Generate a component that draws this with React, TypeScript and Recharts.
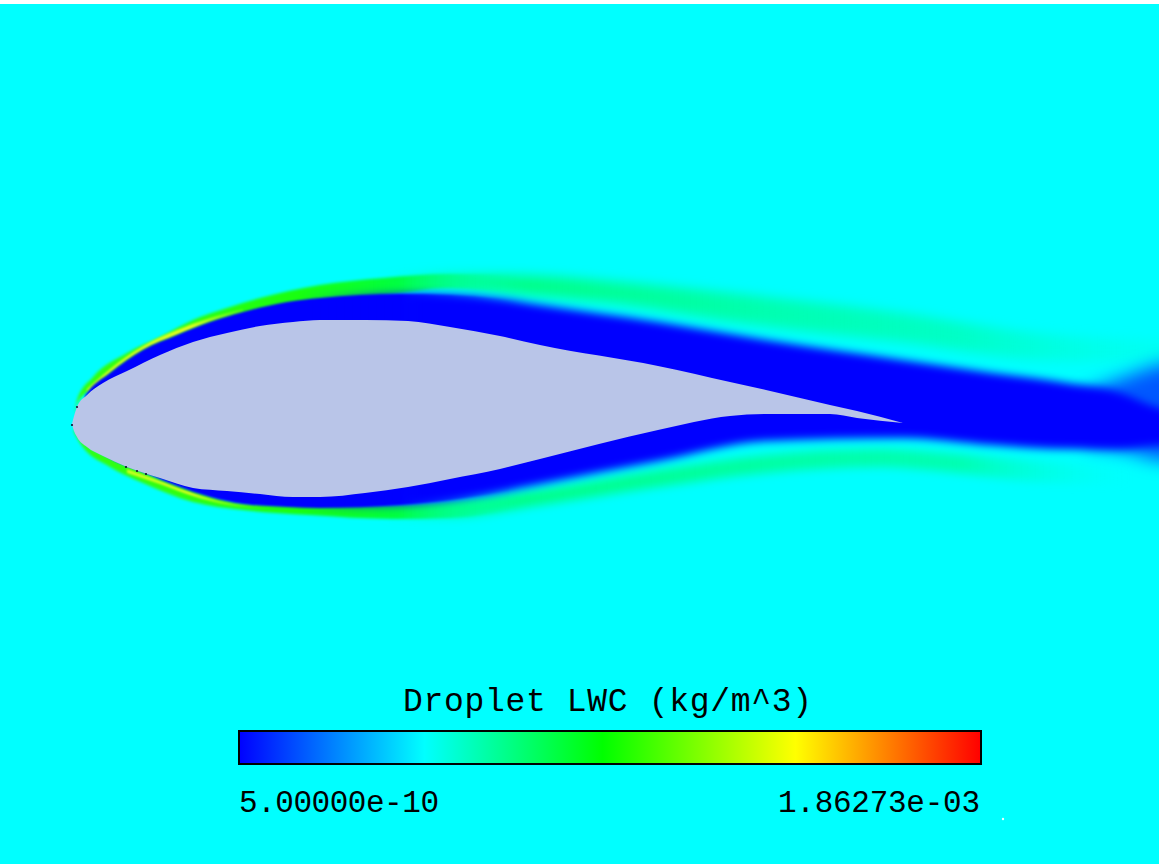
import React from "react";
import { ComposedChart, Area, Scatter, XAxis, YAxis, ReferenceArea, ReferenceDot } from "recharts";

const W = 1159;
const H = 864;

// Airfoil solid body
const bodyX = [72, 73, 77, 87, 103, 127, 160, 193, 227, 260, 293, 320, 365, 408, 450, 500, 540, 658, 730, 766, 830, 857, 903];
const bodyTop = [424, 420, 407, 395, 383, 371, 355, 342, 333, 326, 322, 320, 320, 321, 327, 336, 345, 366, 382, 390, 405, 411, 423];
const bodyBot = [424, 428, 437, 447, 456, 467, 478, 488, 491, 494, 497, 497, 493, 487, 479, 469, 459, 430, 416, 414, 414, 418, 423];

// Low-LWC wake (blue)
const wakeX = [85, 87, 110, 143, 177, 210, 243, 287, 320, 400, 450, 500, 540, 658, 766, 902, 992, 1067, 1117, 1159, 1200];
const wakeTop = [396, 393, 373, 350, 335, 322, 312, 302, 298, 294, 295, 299, 305, 322, 340, 360, 373, 383, 392, 408, 414];
const wakeBot = [440, 442, 458, 472, 486, 497, 504, 507, 508, 505, 500, 492, 484, 461, 441, 438, 445, 449, 449, 445, 444];

// End-of-domain lighter blue
const tailX = [1085, 1130, 1159, 1200];
const tailTop = [392, 375, 365, 360];
const tailBot = [445, 452, 460, 462];

// Upper and lower high-LWC halo (green)
const haloUpX = [75, 77, 93, 127, 160, 193, 227, 260, 320, 383, 450, 540, 620, 721, 812, 902, 1038, 1105, 1200];
const haloUpTop = [410, 400, 377, 353, 337, 320, 308, 298, 285, 278, 274, 276, 282, 292, 302, 313, 333, 338, 340];
const haloUpBot = [416, 404, 388, 370, 350, 335, 325, 315, 305, 296, 288, 296, 304, 320, 332, 342, 360, 362, 356];
const haloLoX = [74, 80, 110, 143, 193, 243, 310, 393, 450, 540, 658, 766, 880, 947, 1038, 1100, 1150];
const haloLoTop = [428, 438, 458, 472, 490, 503, 505, 505, 502, 490, 470, 455, 449, 453, 461, 466, 470];
const haloLoBot = [432, 443, 467, 483, 502, 510, 515, 519, 518, 505, 487, 473, 467, 472, 482, 484, 484];

// Thin bright streaks beside the wake
const sparkUpX = [87, 110, 143, 177, 210, 243];
const sparkUpTop = [389, 369, 346, 330, 318, 309];
const sparkUpBot = [393, 373, 350, 335, 322, 312];
const sparkLoX = [127, 160, 193, 227, 243, 270];
const sparkLoTop = [469, 481, 493, 502, 504, 506];
const sparkLoBot = [473, 484, 496, 505, 507, 509];

// Colour bar
const barStops = [0, 0.25, 0.49, 0.75, 1];
const barColors = ["#0000ff", "#00ffff", "#00ff00", "#ffff00", "#ff0000"];
const barTitle = "Droplet LWC (kg/m^3)";
const barMin = "5.00000e-10";
const barMax = "1.86273e-03";

// Isolated specks
const darkSpecks = [
  { x: 77, y: 407 },
  { x: 72, y: 425 },
  { x: 126, y: 467 },
  { x: 137, y: 471 },
  { x: 146, y: 474 },
];
const lightSpecks = [{ x: 1003, y: 819 }];

const band = (xs: number[], top: number[], bot: number[]) =>
  xs.map((x, i) => ({ x, band: [top[i], bot[i]] }));

const FONT = "'Liberation Mono', monospace";

const fade = (id: string, stops: [number, string, number][]) => (
  <linearGradient id={id} gradientUnits="userSpaceOnUse" x1={0} y1={0} x2={W} y2={0}>
    {stops.map(([x, c, o], i) => (
      <stop key={i} offset={x / W} stopColor={c} stopOpacity={o} />
    ))}
  </linearGradient>
);

const label = (x: number, y: number, text: string, size: number, len: number) => (
  <ReferenceDot
    x={x}
    y={y}
    r={0}
    ifOverflow="visible"
    shape={(p: any) => (
      <text x={p.cx} y={p.cy} fontFamily={FONT} fontSize={size} textLength={len} lengthAdjust="spacing" fill="#000">
        {text}
      </text>
    )}
  />
);

export default function App() {
  const area = (key: string, data: any[], fill: string, blur: number) => (
    <Area
      key={key}
      data={data}
      dataKey="band"
      type="monotone"
      stroke="none"
      fill={fill}
      fillOpacity={1}
      dot={false}
      activeDot={false}
      isAnimationActive={false}
      style={blur ? { filter: `blur(${blur}px)` } : undefined}
    />
  );
  return (
    <div style={{ position: "absolute", left: 0, top: 0, width: W, height: H, background: "#fff" }}>
      <ComposedChart width={W} height={H} margin={{ top: 0, right: 0, bottom: 0, left: 0 }}>
        <defs>
          {fade("haloNear", [
            [70, "#30ff10", 1],
            [170, "#30ff10", 1],
            [300, "#18ff10", 1],
            [400, "#00ff40", 1],
            [520, "#00ff70", 0],
          ])}
          {fade("haloFar", [
            [380, "#00ff60", 0],
            [520, "#00ff78", 0.9],
            [800, "#00ff98", 0.72],
            [960, "#00ff98", 0.55],
            [1120, "#00ffc0", 0.25],
            [1159, "#00ffc8", 0.2],
          ])}
          {fade("haloFarLow", [
            [380, "#00ff60", 0],
            [520, "#00ff78", 0.9],
            [800, "#00ff90", 0.8],
            [960, "#00ff90", 0.7],
            [1090, "#00ffc0", 0.12],
            [1130, "#00ffc8", 0],
          ])}
          {fade("spark", [
            [85, "#d0ff20", 0.9],
            [190, "#e8ff20", 0.95],
            [270, "#80ff20", 0],
          ])}
          {fade("wakeNear", [
            [70, "#0000ff", 1],
            [400, "#0000ff", 1],
            [520, "#0000ff", 0],
          ])}
          {fade("wakeFar", [
            [300, "#0000ff", 0],
            [420, "#0000ff", 1],
            [1159, "#0000ff", 1],
          ])}
          <linearGradient id="barFill" x1="0" y1="0" x2="1" y2="0">
            {barStops.map((s, i) => (
              <stop key={i} offset={s} stopColor={barColors[i]} />
            ))}
          </linearGradient>
        </defs>
        <XAxis type="number" dataKey="x" domain={[0, W]} allowDataOverflow hide />
        <YAxis type="number" domain={[0, H]} reversed allowDataOverflow hide />
        <ReferenceArea x1={0} x2={W} y1={4} y2={H} fill="#00ffff" fillOpacity={1} stroke="none" />
        {area("haloUpNear", band(haloUpX, haloUpTop, haloUpBot), "url(#haloNear)", 1.5)}
        {area("haloLoNear", band(haloLoX, haloLoTop, haloLoBot), "url(#haloNear)", 1.5)}
        {area("haloUpFar", band(haloUpX, haloUpTop, haloUpBot), "url(#haloFar)", 6)}
        {area("haloLoFar", band(haloLoX, haloLoTop, haloLoBot), "url(#haloFarLow)", 5)}
        {area("sparkUp", band(sparkUpX, sparkUpTop, sparkUpBot), "url(#spark)", 0.8)}
        {area("sparkLo", band(sparkLoX, sparkLoTop, sparkLoBot), "url(#spark)", 0.8)}
        {area("tail", band(tailX, tailTop, tailBot), "#0058ff", 9)}
        {area("wakeNear", band(wakeX, wakeTop, wakeBot), "url(#wakeNear)", 1.2)}
        {area("wakeFar", band(wakeX, wakeTop, wakeBot), "url(#wakeFar)", 4.5)}
        {area("body", band(bodyX, bodyTop, bodyBot), "#b9c5e8", 0)}
        <Scatter data={darkSpecks} dataKey="y" fill="#101030" shape={(p: any) => <circle cx={p.cx} cy={p.cy} r={1.1} fill="#101030" />} isAnimationActive={false} />
        <Scatter data={lightSpecks} dataKey="y" shape={(p: any) => <circle cx={p.cx} cy={p.cy} r={1.2} fill="#e8ffff" />} isAnimationActive={false} />
        <ReferenceArea x1={239} x2={981} y1={731} y2={764} fill="url(#barFill)" fillOpacity={1} stroke="#000" strokeWidth={2} />
        {label(403, 711, barTitle, 33, 409)}
        {label(239, 812, barMin, 31, 200)}
        {label(778, 812, barMax, 31, 202)}
      </ComposedChart>
    </div>
  );
}
